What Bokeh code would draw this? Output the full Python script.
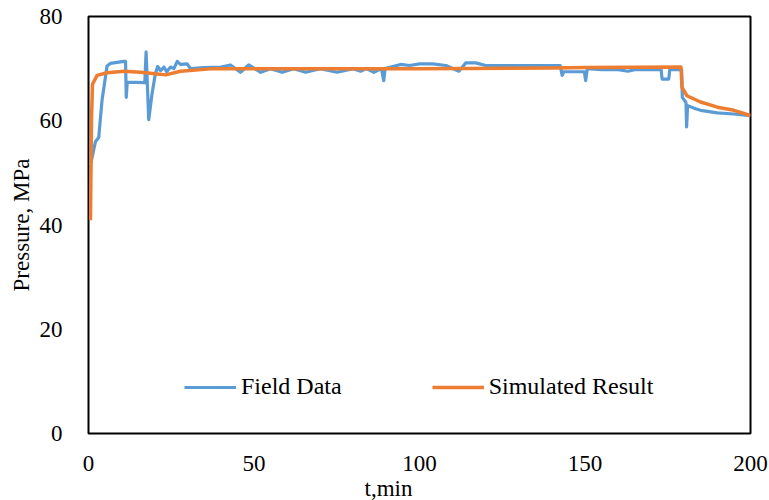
from bokeh.plotting import figure
from bokeh.models import Legend, LegendItem, FixedTicker, Title
from bokeh.embed import file_html
from bokeh.resources import INLINE

# Field data (t in min, pressure in MPa)
field_t = [0.5, 1.1, 2.1, 3.1, 3.6, 4.1, 4.8, 5.6, 6.6, 10.7, 11.2, 11.4, 11.7, 17.0, 17.4, 18.2,
           19.2, 20.2, 20.9, 21.8, 22.8, 23.6, 24.8, 25.8, 26.8, 27.8, 29.8, 30.8, 35.0, 40.0,
           42.9, 45.9, 48.4, 52.0, 55.0, 58.5, 62.0, 65.6, 70.0, 75.1, 80.0, 82.2, 84.0, 86.2,
           88.5, 89.2, 89.6, 94.3, 97.0, 100.0, 104.0, 108.0, 111.9, 114.0, 117.0, 120.0, 125.0,
           130.0, 135.0, 142.5, 143.1, 143.6, 146.0, 149.8, 150.2, 150.7, 155.0, 160.0, 163.0,
           165.0, 170.0, 173.0, 173.3, 175.3, 175.6, 179.2, 179.4, 180.5, 180.7, 181.0, 183.4,
           184.9, 190.0, 195.0, 200.0]
field_p = [51.5, 53.0, 56.0, 56.8, 60.5, 64.0, 67.0, 70.5, 71.0, 71.4, 71.4, 64.5, 67.4, 67.3, 73.2, 60.2,
           65.2, 69.0, 70.4, 69.6, 70.3, 69.4, 70.3, 70.0, 71.4, 70.8, 70.9, 70.0, 70.2, 70.3,
           70.7, 69.3, 70.7, 69.3, 70.0, 69.3, 70.0, 69.3, 70.0, 69.3, 70.0, 69.5, 70.0, 69.3,
           70.0, 67.7, 70.0, 70.8, 70.6, 70.9, 70.9, 70.6, 69.5, 71.1, 71.1, 70.6, 70.6,
           70.6, 70.6, 70.6, 68.7, 69.4, 69.4, 69.4, 67.7, 70.0, 69.8, 69.8, 69.5,
           69.8, 69.8, 69.8, 68.0, 68.0, 69.8, 69.8, 64.5, 63.5, 58.8, 62.9, 62.3,
           62.0, 61.5, 61.3, 61.0]

# Simulated result
sim_t = [0.6, 0.9, 1.2, 2.6, 5.6, 10.7, 15.7, 20.0, 23.3, 27.8, 37.8, 60.0, 100.0, 140.0,
         150.0, 179.0, 179.3, 180.8, 184.9, 190.0, 195.0, 200.0]
sim_p = [40.9, 60.0, 67.0, 68.7, 69.2, 69.5, 69.3, 69.0, 68.8, 69.5, 70.0, 70.0, 70.0, 70.1,
         70.2, 70.3, 66.4, 64.8, 63.6, 62.6, 62.0, 61.0]

x_ticks = [0, 50, 100, 150, 200]
y_ticks = [0, 20, 40, 60, 80]

FONT = "Liberation Serif"
FS = "23px"

p = figure(width=769, height=500, output_backend="svg", toolbar_location=None,
           x_range=(0, 200), y_range=(0, 80),
           min_border_left=88, min_border_right=19, min_border_top=16, min_border_bottom=67)
p.frame_width = 662
p.frame_height = 417

p.xgrid.visible = False
p.ygrid.visible = False
p.outline_line_color = "black"
p.outline_line_width = 2
p.background_fill_color = "white"
p.border_fill_color = "white"

for ax in (p.xaxis[0], p.yaxis[0]):
    ax.axis_line_color = None
    ax.major_tick_line_color = None
    ax.minor_tick_line_color = None
    ax.major_label_text_font = FONT
    ax.major_label_text_font_size = FS
    ax.major_label_text_color = "black"
    ax.axis_label_text_font = FONT
    ax.axis_label_text_font_size = FS
    ax.axis_label_text_font_style = "normal"
    ax.axis_label_text_color = "black"

p.xaxis.ticker = FixedTicker(ticks=x_ticks)
p.yaxis.ticker = FixedTicker(ticks=y_ticks)
p.xaxis.major_label_standoff = 16
p.yaxis.major_label_standoff = 20
p.yaxis.axis_label = "Pressure, MPa"
p.yaxis.axis_label_standoff = 3

xt = Title(text="t,min", align="left", offset=276, text_font=FONT, text_font_size=FS,
           text_font_style="normal", text_color="black", standoff=0)
p.add_layout(xt, "below")

r1 = p.line(field_t, field_p, line_color="#5B9BD5", line_width=3.2, line_join="round")
r2 = p.line(sim_t, sim_p, line_color="#ED7D31", line_width=3.5, line_join="round")

legend = Legend(items=[LegendItem(label="Field Data", renderers=[r1]),
                       LegendItem(label="Simulated Result", renderers=[r2])],
                orientation="horizontal", location=(96, 33),
                background_fill_alpha=0, border_line_color=None,
                padding=0, margin=0, spacing=90, glyph_width=52, label_standoff=5,
                label_text_font=FONT, label_text_font_size="24px", label_text_color="black")
p.add_layout(legend, "center")

open("out.html", "w").write(file_html(p, INLINE))
